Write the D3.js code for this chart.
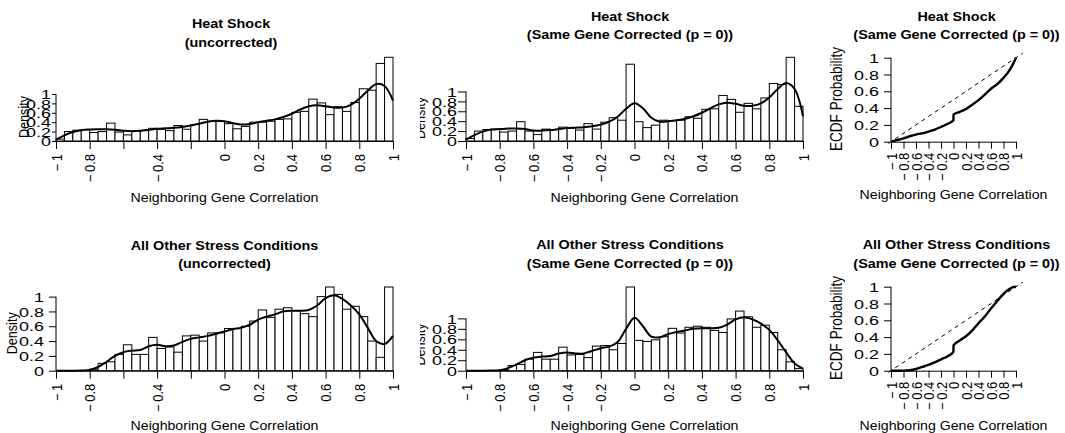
<!DOCTYPE html>
<html>
<head>
<meta charset="utf-8">
<script src="https://cdn.jsdelivr.net/npm/d3@7"></script>
<style>
  body { margin: 0; background: #fff; }
  svg { display: block; }
  text { font-family: "Liberation Sans", Arial, Helvetica, sans-serif; fill: #000; }
</style>
</head>
<body>
<svg id="chart" width="1065" height="433"></svg>
<script>
// ---- data -------------------------------------------------------------
// histogram bins: width 0.05 from -1 to 1 (left edges)
const binStarts = d3.range(40).map(i => +(-1 + i * 0.05).toFixed(2));
// grid the density curves are given on
const kdeGrid = d3.range(41).map(i => +(-1 + i * 0.05).toFixed(2));

const xTickValues = [-1, -0.8, -0.6, -0.4, -0.2, 0, 0.2, 0.4, 0.6, 0.8, 1];
const yTickValues = [0, 0.2, 0.4, 0.6, 0.8, 1];

// Heat shock, uncorrected
const hsRawDensity = [0.04,0.20,0.23,0.24,0.18,0.20,0.38,0.19,0.13,0.22,
                      0.22,0.27,0.25,0.22,0.33,0.25,0.35,0.46,0.42,0.42,
                      0.37,0.26,0.31,0.40,0.40,0.42,0.46,0.47,0.61,0.63,
                      0.89,0.81,0.56,0.73,0.63,0.82,1.11,1.08,1.65,1.78];
const hsRawKde = [0.03,0.12,0.19,0.23,0.245,0.25,0.25,0.24,0.22,0.21,
                  0.22,0.24,0.26,0.27,0.28,0.30,0.33,0.37,0.41,0.43,
                  0.42,0.38,0.35,0.36,0.40,0.43,0.46,0.51,0.58,0.67,
                  0.74,0.76,0.74,0.71,0.71,0.77,0.90,1.07,1.21,1.17,0.86];

// Heat shock, same gene corrected
const hsCorDensity = [0.05,0.20,0.23,0.24,0.18,0.20,0.39,0.20,0.13,0.24,
                      0.23,0.28,0.26,0.22,0.35,0.24,0.38,0.47,0.42,1.55,
                      0.39,0.27,0.32,0.42,0.41,0.42,0.49,0.46,0.64,0.65,
                      0.92,0.84,0.58,0.76,0.65,0.87,1.16,1.14,1.69,0.70];
const hsCorKde = [0.03,0.12,0.19,0.23,0.24,0.25,0.25,0.24,0.21,0.21,
                  0.22,0.24,0.26,0.27,0.28,0.30,0.33,0.39,0.49,0.65,
                  0.76,0.66,0.47,0.39,0.40,0.42,0.45,0.50,0.57,0.66,
                  0.74,0.77,0.75,0.71,0.71,0.76,0.88,1.05,1.17,1.05,0.50];
const hsEcdfX = [-1,-0.9,-0.8,-0.7,-0.6,-0.5,-0.4,-0.3,-0.2,-0.1,-0.001,0,
                 0.1,0.2,0.3,0.4,0.5,0.6,0.7,0.8,0.9,0.95,1];
const hsEcdfY = [0,0.02,0.04,0.065,0.085,0.10,0.12,0.145,0.175,0.21,0.255,0.325,
                 0.355,0.39,0.44,0.495,0.56,0.63,0.685,0.76,0.855,0.92,1];

// All other stress conditions, uncorrected
const oaRawDensity = [0,0,0,0,0.02,0.10,0.12,0.22,0.35,0.22,
                      0.22,0.45,0.30,0.32,0.25,0.47,0.48,0.40,0.51,0.51,
                      0.57,0.57,0.60,0.67,0.82,0.72,0.83,0.85,0.81,0.77,
                      0.73,1.00,1.13,1.03,0.83,0.87,0.73,0.40,0.18,1.13];
const oaRawKde = [0,0,0,0.002,0.01,0.05,0.12,0.20,0.25,0.27,
                  0.28,0.33,0.35,0.33,0.34,0.39,0.43,0.45,0.47,0.50,
                  0.53,0.56,0.58,0.62,0.69,0.73,0.76,0.80,0.81,0.81,
                  0.82,0.88,0.98,1.02,0.97,0.88,0.76,0.58,0.40,0.36,0.47];

// All other stress conditions, same gene corrected
const oaCorDensity = [0,0,0,0,0.02,0.10,0.12,0.22,0.35,0.22,
                      0.22,0.45,0.30,0.31,0.25,0.47,0.48,0.40,0.52,1.60,
                      0.58,0.56,0.59,0.65,0.81,0.72,0.83,0.85,0.83,0.77,
                      0.73,0.99,1.14,1.03,0.83,0.87,0.73,0.40,0.17,0.04];
const oaCorKde = [0,0,0,0.002,0.01,0.05,0.12,0.20,0.25,0.27,
                  0.28,0.33,0.35,0.33,0.33,0.38,0.43,0.46,0.55,0.80,
                  1.01,0.85,0.65,0.64,0.70,0.74,0.77,0.80,0.81,0.81,
                  0.82,0.88,0.98,1.02,0.98,0.90,0.78,0.58,0.35,0.14,0.04];
const oaEcdfX = [-1,-0.8,-0.7,-0.6,-0.5,-0.4,-0.3,-0.2,-0.1,-0.001,0,
                 0.1,0.2,0.3,0.4,0.5,0.6,0.7,0.8,0.9,0.95,1];
const oaEcdfY = [0,0,0.005,0.02,0.045,0.07,0.10,0.135,0.17,0.225,0.30,
                 0.36,0.41,0.48,0.565,0.645,0.74,0.83,0.915,0.975,0.995,1];

// uniform reference line for the ECDF panels
const uniformX = [-1.04, 1.11];

const xLabel = "Neighboring Gene Correlation";

// ---- drawing ----------------------------------------------------------
const svg = d3.select("#chart");
const SX = 1.16;       // horizontal stretch of titles and axis titles
const TICK_FS = 13;    // tick label size
const SX_XT = 1.1;     // stretch of the rotated x tick labels
const SX_YT = 1.38;    // stretch of the y tick labels

// negative tick labels: minus sign followed by a thin gap
const signed = v => (v < 0 ? "\u2212\u2009" : "") + Math.abs(v);

function title(lines, cx, baselines) {
  lines.forEach((t, i) => {
    svg.append("text")
      .attr("transform", `translate(${cx},${baselines[i]}) scale(${SX},1)`)
      .attr("text-anchor", "middle")
      .attr("font-size", 12.4)
      .attr("font-weight", "bold")
      .text(t);
  });
}

function axisTitleX(cx, baseline) {
  svg.append("text")
    .attr("transform", `translate(${cx},${baseline}) scale(${SX},1)`)
    .attr("text-anchor", "middle")
    .attr("font-size", 12.2)
    .text(xLabel);
}

function axisTitleY(text, cx, cy, size, clipLeft) {
  const t = svg.append("text")
    .attr("transform", `translate(${cx},${cy}) scale(${SX},1) rotate(-90)`)
    .attr("text-anchor", "middle")
    .attr("dy", "0.35em")
    .attr("font-size", size)
    .text(text);
  if (clipLeft != null) {
    const id = "clip" + Math.round(cx) + "_" + Math.round(cy);
    svg.append("clipPath").attr("id", id)
      .attr("clipPathUnits", "userSpaceOnUse")
      .append("rect").attr("x", clipLeft).attr("y", 0).attr("width", 1065).attr("height", 433);
    svg.append("g").attr("clip-path", `url(#${id})`).node().appendChild(t.node());
  }
}

function drawAxes(g, x, y, cfg) {
  const shown = cfg.shownLabels || xTickValues;
  const gx = g.append("g")
    .attr("transform", `translate(0,${cfg.base})`)
    .call(d3.axisBottom(x).tickValues(xTickValues)
      .tickSize(cfg.xTick).tickSizeOuter(0)
      .tickFormat(d => shown.includes(d) ? signed(d) : ""))
    .attr("font-size", TICK_FS)
    .attr("font-family", null);
  gx.selectAll(".tick text")
    .attr("x", null).attr("y", null).attr("dy", "0.35em")
    .attr("text-anchor", "end")
    .attr("transform", `translate(0,${cfg.xLabOff}) scale(${SX_XT},1) rotate(-90)`);
  gx.selectAll("line, path").attr("stroke-width", 1);

  const gy = g.append("g")
    .attr("transform", `translate(${cfg.left},0)`)
    .call(d3.axisLeft(y).tickValues(yTickValues)
      .tickSize(cfg.yTick).tickSizeOuter(0)
      .tickFormat(d => String(d)))
    .attr("font-size", TICK_FS)
    .attr("font-family", null);
  gy.select(".domain").remove();
  gy.append("line")
    .attr("x1", 0).attr("x2", 0)
    .attr("y1", y(0)).attr("y2", y(1))
    .attr("stroke", "#000");
  gy.selectAll(".tick text")
    .attr("x", null).attr("dy", "0.36em")
    .attr("transform", `translate(${-cfg.yLabOff},0) scale(${SX_YT},1)`);
}

function histPanel(cfg) {
  const g = svg.append("g");
  const x = d3.scaleLinear().domain([-1, 1]).range([cfg.left, cfg.right]);
  const ymax = d3.max(cfg.bars);
  const y = d3.scaleLinear().domain([0, ymax]).range([cfg.base, cfg.base - cfg.plotH]);

  g.append("g").selectAll("rect")
    .data(cfg.bars)
    .join("rect")
    .attr("x", (d, i) => x(binStarts[i]))
    .attr("width", (d, i) => x(binStarts[i] + 0.05) - x(binStarts[i]))
    .attr("y", d => y(d))
    .attr("height", d => y(0) - y(d))
    .attr("fill", "#fff")
    .attr("stroke", "#000")
    .attr("stroke-width", 1);

  g.append("path")
    .datum(kdeGrid.map((v, i) => [v, cfg.kde[i]]))
    .attr("fill", "none")
    .attr("stroke", "#000")
    .attr("stroke-width", 2)
    .attr("d", d3.line().x(d => x(d[0])).y(d => y(d[1])).curve(d3.curveCatmullRom.alpha(0.5)));

  drawAxes(g, x, y, cfg);
  title(cfg.title, cfg.titleX, cfg.titleY);
  axisTitleX((cfg.left + cfg.right) / 2 + (cfg.xLabShift || 0), cfg.base + cfg.xTitleOff);
  axisTitleY("Density", cfg.yTitleX, cfg.yTitleY, 12.6, cfg.yTitleClip);
}

function ecdfPanel(cfg) {
  const g = svg.append("g");
  const x = d3.scaleLinear().domain([-1, 1]).range([cfg.left, cfg.right]);
  const y = d3.scaleLinear().domain([0, 1]).range([cfg.base, cfg.base - cfg.plotH]);

  g.append("path")
    .datum(uniformX.map(v => [v, (v + 1) / 2]))
    .attr("fill", "none")
    .attr("stroke", "#000")
    .attr("stroke-width", 1)
    .attr("stroke-dasharray", "4,4")
    .attr("d", d3.line().x(d => x(d[0])).y(d => y(d[1])));

  g.append("path")
    .datum(cfg.ex.map((v, i) => [v, cfg.ey[i]]))
    .attr("fill", "none")
    .attr("stroke", "#000")
    .attr("stroke-width", 2.4)
    .attr("stroke-linejoin", "round")
    .attr("d", d3.line().x(d => x(d[0])).y(d => y(d[1])).curve(d3.curveMonotoneX));

  drawAxes(g, x, y, cfg);
  title(cfg.title, cfg.titleX, cfg.titleY);
  axisTitleX((cfg.left + cfg.right) / 2, cfg.base + cfg.xTitleOff);
  axisTitleY("ECDF Probability", cfg.yTitleX, cfg.yTitleY, 13.6);
}

// top row: heat shock
histPanel({
  bars: hsRawDensity, kde: hsRawKde,
  left: 56, right: 393, base: 141, plotH: 83.7,
  xTick: 8, xLabOff: 13, yTick: 4, yLabOff: 5,
  shownLabels: [-1, -0.8, -0.4, 0, 0.2, 0.4, 0.6, 0.8, 1],
  title: ["Heat Shock", "(uncorrected)"], titleX: 231, titleY: [28.3, 46.5],
  xTitleOff: 60.7, yTitleX: 23.5, yTitleY: 117
});
histPanel({
  bars: hsCorDensity, kde: hsCorKde,
  left: 466, right: 803, base: 141, plotH: 83.7,
  xTick: 8, xLabOff: 13, yTick: 8, yLabOff: 9,
  title: ["Heat Shock", "(Same Gene Corrected (p = 0))"], titleX: 630, titleY: [20.7, 39],
  xTitleOff: 60.7, xLabShift: 10, yTitleX: 420, yTitleY: 118, yTitleClip: 420
});
ecdfPanel({
  ex: hsEcdfX, ey: hsEcdfY,
  left: 891, right: 1016, base: 141.7, plotH: 84,
  xTick: 7, xLabOff: 11, yTick: 7, yLabOff: 12,
  title: ["Heat Shock", "(Same Gene Corrected (p = 0))"], titleX: 956.5, titleY: [20.7, 39],
  xTitleOff: 57.3, yTitleX: 836, yTitleY: 99
});

// bottom row: all other stress conditions
histPanel({
  bars: oaRawDensity, kde: oaRawKde,
  left: 56, right: 393, base: 370.7, plotH: 83.7,
  xTick: 8, xLabOff: 13, yTick: 7, yLabOff: 12,
  shownLabels: [-1, -0.8, -0.4, 0, 0.2, 0.4, 0.6, 0.8, 1],
  title: ["All Other Stress Conditions", "(uncorrected)"], titleX: 224.5, titleY: [250.3, 268],
  xTitleOff: 59.3, yTitleX: 11.7, yTitleY: 333.3
});
histPanel({
  bars: oaCorDensity, kde: oaCorKde,
  left: 466, right: 803, base: 370.7, plotH: 83.7,
  xTick: 8, xLabOff: 13, yTick: 8, yLabOff: 9,
  title: ["All Other Stress Conditions", "(Same Gene Corrected (p = 0))"], titleX: 630, titleY: [249.3, 267.5],
  xTitleOff: 59.3, xLabShift: 10, yTitleX: 420, yTitleY: 344.5, yTitleClip: 420
});
ecdfPanel({
  ex: oaEcdfX, ey: oaEcdfY,
  left: 891, right: 1016, base: 370.7, plotH: 84,
  xTick: 7, xLabOff: 11, yTick: 7, yLabOff: 12,
  title: ["All Other Stress Conditions", "(Same Gene Corrected (p = 0))"], titleX: 956.5, titleY: [249.3, 268],
  xTitleOff: 59.3, yTitleX: 836, yTitleY: 328
});
</script>
</body>
</html>
